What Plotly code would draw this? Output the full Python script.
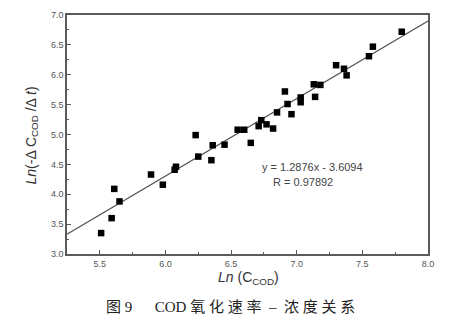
import plotly.graph_objects as go

# Data
ln_c = [5.51, 5.59, 5.61, 5.65, 5.89, 5.98, 6.07, 6.08, 6.23, 6.25, 6.35, 6.36,
        6.45, 6.55, 6.60, 6.65, 6.71, 6.73, 6.77, 6.82, 6.85, 6.91, 6.93, 6.96,
        7.03, 7.03, 7.13, 7.14, 7.18, 7.30, 7.36, 7.38, 7.55, 7.58, 7.80]
ln_rate = [3.35, 3.60, 4.09, 3.88, 4.33, 4.16, 4.41, 4.46, 4.99, 4.63, 4.57, 4.82,
           4.83, 5.08, 5.08, 4.86, 5.14, 5.24, 5.17, 5.10, 5.37, 5.72, 5.51, 5.34,
           5.62, 5.54, 5.84, 5.63, 5.83, 6.16, 6.10, 5.99, 6.31, 6.47, 6.72]
fit_x = [5.25, 8.0]
fit_y = [3.33, 6.90]

x_ticks = [5.5, 6.0, 6.5, 7.0, 7.5, 8.0]
y_ticks = [3.0, 3.5, 4.0, 4.5, 5.0, 5.5, 6.0, 6.5, 7.0]

axis_col = "#5a5a5a"
tick_font = dict(family="Liberation Sans, Arial", size=9, color="#555555")

fig = go.Figure()
fig.add_trace(go.Scatter(x=fit_x, y=fit_y, mode="lines",
                         line=dict(color="#555555", width=1.2), showlegend=False))
fig.add_trace(go.Scatter(x=ln_c, y=ln_rate, mode="markers",
                         marker=dict(symbol="square", size=6.5, color="black"),
                         showlegend=False))

fig.update_layout(
    width=459, height=327,
    margin=dict(l=67, r=31, t=10, b=73),
    paper_bgcolor="white", plot_bgcolor="white",
    xaxis=dict(range=[5.25, 8.0], tickvals=x_ticks, ticktext=[f"{v:.1f}" for v in x_ticks],
               ticks="inside", ticklen=4, tickcolor=axis_col, tickwidth=1,
               minor=dict(dtick=0.25, tick0=5.25, ticks="inside", ticklen=2.5, tickcolor=axis_col),
               showline=True, linecolor=axis_col, linewidth=1.5, mirror=True,
               showgrid=False, zeroline=False, tickfont=tick_font),
    yaxis=dict(range=[3.0, 7.0], tickvals=y_ticks, ticktext=[f"{v:.1f}" for v in y_ticks],
               ticks="inside", ticklen=4, tickcolor=axis_col, tickwidth=1,
               minor=dict(dtick=0.25, tick0=3.0, ticks="inside", ticklen=2.5, tickcolor=axis_col),
               showline=True, linecolor=axis_col, linewidth=1.5, mirror=True,
               showgrid=False, zeroline=False, tickfont=tick_font),
)

def px(xp, yp):
    return (xp - 67) / 361, (254 - yp) / 244

ax, ay = px(248, 279)
fig.add_annotation(x=ax, y=ay, xref="paper", yref="paper", showarrow=False,
                   xanchor="center", yanchor="middle",
                   text="<i>Ln</i> (C<sub>COD</sub>)",
                   font=dict(family="Liberation Sans, Arial", size=14, color="#333333"))
ax, ay = px(32, 133)
fig.add_annotation(x=ax, y=ay, xref="paper", yref="paper", showarrow=False,
                   textangle=-90, xanchor="center", yanchor="middle",
                   text="<i>Ln</i>(-Δ C<sub>COD</sub> /Δ <i>t</i>)",
                   font=dict(family="Liberation Sans, Arial", size=14, color="#333333"))
ax, ay = px(312, 165)
fig.add_annotation(x=ax, y=ay, xref="paper", yref="paper",
                   showarrow=False, xanchor="center", yanchor="middle",
                   text="y = 1.2876x - 3.6094",
                   font=dict(family="Liberation Sans, Arial", size=11, color="#444444"))
ax, ay = px(303, 181)
fig.add_annotation(x=ax, y=ay, xref="paper", yref="paper",
                   showarrow=False, xanchor="center", yanchor="middle",
                   text="R = 0.97892",
                   font=dict(family="Liberation Sans, Arial", size=11, color="#444444"))
ax, ay = px(230, 308)
fig.add_annotation(x=ax, y=ay, xref="paper", yref="paper",
                   showarrow=False, xanchor="center", yanchor="middle",
                   text=("图&nbsp;9&nbsp;&nbsp;&nbsp;&nbsp;&nbsp;&nbsp;COD&nbsp;氧&nbsp;化&nbsp;速&nbsp;率"
                         "&nbsp;&nbsp;–&nbsp;&nbsp;浓&nbsp;度&nbsp;关&nbsp;系"),
                   font=dict(family="Liberation Serif, Noto Sans CJK SC", size=15, color="#222222"))

fig.write_html("out.html")
